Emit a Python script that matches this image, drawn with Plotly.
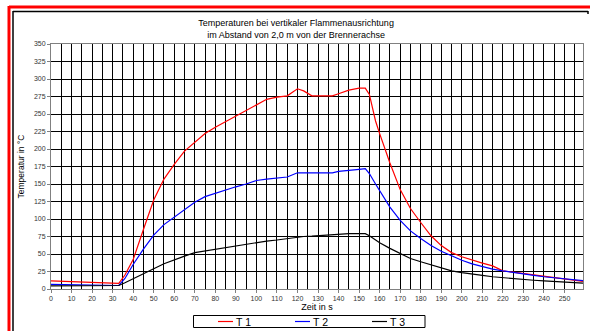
import plotly.graph_objects as go

t = [0, 5, 10, 15, 20, 25, 30, 33, 36, 40, 45, 50, 55, 60, 65, 70, 75, 80, 85, 90,
     95, 100, 105, 110, 115, 120, 123, 127, 132, 137, 140, 145, 150, 153, 155, 158,
     160, 165, 170, 175, 180, 185, 190, 195, 200, 205, 210, 215, 220, 225, 230, 235,
     240, 245, 250, 255, 259]

T1 = [11.5, 11, 10.5, 10, 9.5, 9, 8.5, 8, 20, 42, 85, 127, 157, 178, 197, 210, 222,
      231, 239, 247, 256, 264, 271, 274, 276, 286, 283, 276, 275.5, 276, 279, 284,
      287, 287, 278, 240, 222, 180, 142, 115, 95, 76, 62, 52, 46, 41, 37, 33, 26, 24,
      22, 20, 18, 16, 14, 12.5, 11]

T2 = [6.5, 6.2, 6, 5.8, 5.5, 5.3, 5.1, 5, 15, 35, 57, 77, 92, 103, 113, 124, 132, 137,
      141, 146, 150, 155, 157, 158, 160, 166, 166, 165, 165, 166, 168, 170, 171, 172,
      165, 150, 140, 117, 98, 83, 72, 62, 54, 47, 41, 36, 32, 28.5, 26, 23.5, 21.5,
      19.5, 17.5, 16, 14.5, 13, 12]

T3 = [4.5, 4.5, 4.5, 4.5, 4.5, 4.5, 4.6, 5, 9, 15, 22, 29, 36, 42, 47, 52, 54.5, 57,
      59.5, 62, 64.5, 67, 68.5, 70, 72, 74, 75, 75.5, 76.5, 77.5, 78.5, 79, 79, 79, 76,
      69.5, 66, 58, 50.5, 43.5, 39, 34.5, 30, 26, 23.5, 21, 19.5, 17.5, 16, 14.5, 13.5,
      12.5, 11.5, 10.5, 9.5, 9, 8.5]

series_names = ["T 1", "T 2", "T 3"]
series_values = [T1, T2, T3]
series_colors = ["#ff0000", "#0000ff", "#000000"]

title_lines = ["Temperaturen bei vertikaler Flammenausrichtung",
               "im Abstand von 2,0 m von der Brennerachse"]

fig = go.Figure()
for name, vals, col in zip(series_names, series_values, series_colors):
    fig.add_trace(go.Scatter(x=t, y=vals, mode="lines", name=name, showlegend=False,
                             line=dict(color=col, width=1.2)))

L, R, TOP, BOT = 51, 583, 44, 289
W, H = 590, 331
pw, ph = R - L, BOT - TOP

def px(x):
    return (x - L) / pw

def py(y):
    return (BOT - y) / ph

fig.update_layout(
    width=W, height=H,
    margin=dict(l=L, r=W - R, t=TOP, b=H - BOT, pad=0, autoexpand=False),
    paper_bgcolor="white", plot_bgcolor="white",
    font=dict(family="Liberation Sans, Arial, sans-serif", color="black"),
    title=dict(text="<br>".join(title_lines), x=px(318), xanchor="center",
               y=1 - 26 / H, yanchor="middle",
               font=dict(size=9, color="black")),
    showlegend=False,
    xaxis=dict(range=[0, 259], dtick=10, tick0=0, showgrid=True, gridcolor="black",
               gridwidth=1, minor=dict(dtick=5, showgrid=True, gridcolor="black",
                                       gridwidth=1),
               showline=True, linecolor="#808080", mirror=True, zeroline=False,
               ticks="outside", ticklen=3, tickcolor="#808080",
               tickfont=dict(size=7, color="#333333"),
               title=dict(text="Zeit in s", font=dict(size=9, color="black"), standoff=1)),
    yaxis=dict(range=[0, 350], dtick=25, tick0=0, showgrid=True, gridcolor="black",
               gridwidth=1, showline=True, linecolor="#808080", mirror=True,
               zeroline=False, ticks="outside", ticklen=3, tickcolor="#808080",
               tickfont=dict(size=7, color="#333333"),
               title=dict(text="Temperatur in °C", font=dict(size=8.5, color="black"),
                          standoff=7)),
)

shapes = []
annotations = []
# red outer frame (top and left)
shapes.append(dict(type="line", xref="paper", yref="paper", x0=px(9), x1=px(592),
                   y0=py(7), y1=py(7), line=dict(color="#ff0000", width=3)))
shapes.append(dict(type="line", xref="paper", yref="paper", x0=px(9), x1=px(9),
                   y0=py(6), y1=py(335), line=dict(color="#ff0000", width=3)))
# inner black frame
shapes.append(dict(type="line", xref="paper", yref="paper", x0=px(13), x1=px(588),
                   y0=py(11.5), y1=py(11.5), line=dict(color="black", width=1.5)))
shapes.append(dict(type="line", xref="paper", yref="paper", x0=px(13), x1=px(13),
                   y0=py(11), y1=py(335), line=dict(color="black", width=1.5)))
shapes.append(dict(type="line", xref="paper", yref="paper", x0=px(588), x1=px(588),
                   y0=py(11), y1=py(14), line=dict(color="black", width=1.5)))

# legend box
shapes.append(dict(type="rect", xref="paper", yref="paper", x0=px(193.5), x1=px(425),
                   y0=py(315.5), y1=py(327.5), line=dict(color="black", width=1),
                   fillcolor="white"))
leg_x = [218, 295, 372]
leg_y = 321.5
for i, (name, col) in enumerate(zip(series_names, series_colors)):
    x0 = leg_x[i]
    shapes.append(dict(type="line", xref="paper", yref="paper", x0=px(x0), x1=px(x0 + 15),
                       y0=py(leg_y), y1=py(leg_y), line=dict(color=col, width=1.2)))
    annotations.append(dict(text=name, xref="paper", yref="paper", x=px(x0 + 15.5),
                            y=py(leg_y), xanchor="left", yanchor="middle",
                            showarrow=False, font=dict(size=10.5, color="black")))
fig.update_layout(shapes=shapes, annotations=annotations)

fig.write_html("out.html")
